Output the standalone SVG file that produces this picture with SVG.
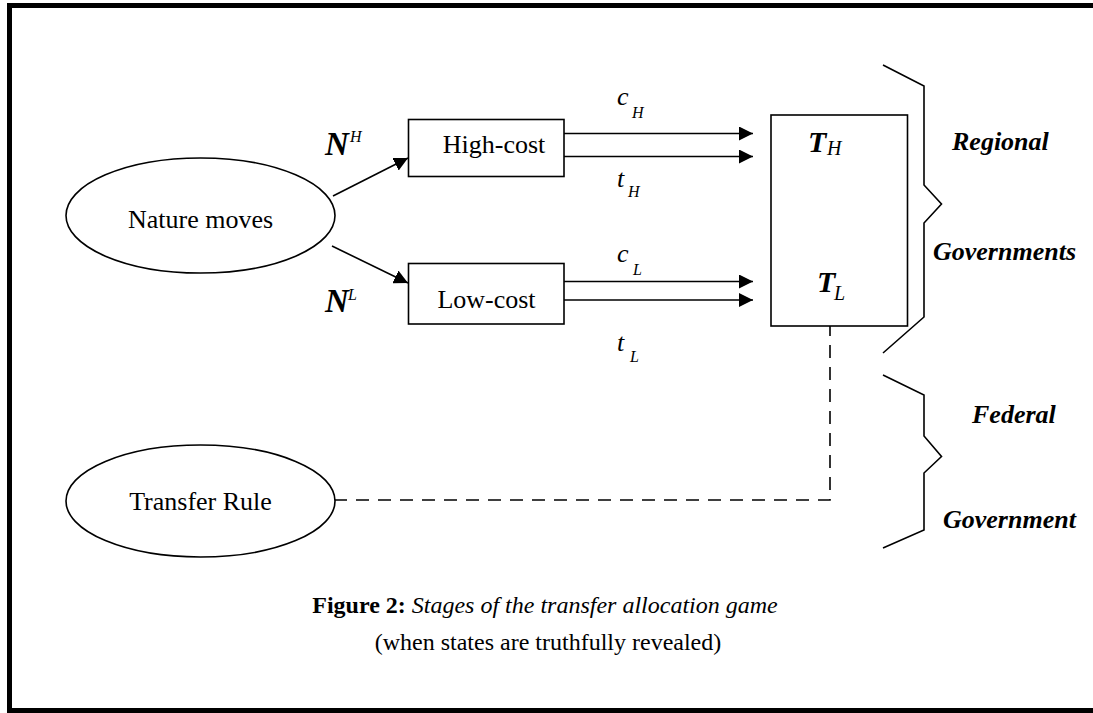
<svg xmlns="http://www.w3.org/2000/svg" width="1093" height="713" viewBox="0 0 1093 713">
  <style>
    .ln { fill: none; stroke: #000; stroke-width: 1.6; }
    .dash { fill: none; stroke: #000; stroke-width: 1.6; stroke-dasharray: 13 9; }
    .shape { fill: #fff; stroke: #000; stroke-width: 1.6; }
    .t { font-family: "Liberation Serif", "Times New Roman", serif; fill: #000; }
    .node { font-size: 26px; }
    .math { font-style: italic; font-size: 26px; }
    .sub { font-style: italic; font-size: 16px; }
    .big { font-style: italic; font-weight: bold; }
    .lbl { font-style: italic; font-weight: bold; font-size: 26px; }
    .cap { font-size: 24px; }
  </style>
  <defs>
    <marker id="arrow" markerUnits="userSpaceOnUse" markerWidth="14" markerHeight="14" viewBox="0 0 12 12" refX="12" refY="6" orient="auto">
      <path d="M0,0 L12,6 L0,12 Z" fill="#000"/>
    </marker>
  </defs>

  <!-- page frame -->
  <rect x="9.5" y="5.5" width="1100" height="705" fill="#fff" stroke="#000" stroke-width="5"/>

  <!-- connectors -->
  <g id="connectors">
    <line class="ln" x1="333" y1="196" x2="408" y2="158" marker-end="url(#arrow)"/>
    <line class="ln" x1="332" y1="246" x2="408" y2="283" marker-end="url(#arrow)"/>
    <line class="ln" x1="561" y1="133.5" x2="753" y2="133.5" marker-end="url(#arrow)"/>
    <line class="ln" x1="561" y1="156.5" x2="753" y2="156.5" marker-end="url(#arrow)"/>
    <line class="ln" x1="561" y1="281.5" x2="753" y2="281.5" marker-end="url(#arrow)"/>
    <line class="ln" x1="561" y1="300" x2="753" y2="300" marker-end="url(#arrow)"/>
    <line class="dash" x1="830" y1="170" x2="830" y2="247"/>
    <polyline class="dash" points="830,323 830,500 335,500"/>
  </g>

  <!-- edge labels -->
  <g id="edge-labels">
    <text class="t big" x="325" y="155" font-size="33">N</text>
    <text class="t sub" x="350" y="142">H</text>
    <text class="t big" x="325" y="312" font-size="33">N</text>
    <text class="t sub" x="348" y="300">L</text>
    <text class="t math" x="617" y="105">c</text>
    <text class="t sub" x="632" y="118">H</text>
    <text class="t math" x="617" y="187">t</text>
    <text class="t sub" x="628" y="197">H</text>
    <text class="t math" x="617" y="262">c</text>
    <text class="t sub" x="633" y="275">L</text>
    <text class="t math" x="617" y="351">t</text>
    <text class="t sub" x="630" y="362">L</text>
  </g>

  <g id="nature">
    <ellipse class="shape" cx="200.5" cy="215.5" rx="134.5" ry="57.5"/>
    <text class="t node" x="200.5" y="228" text-anchor="middle">Nature moves</text>
  </g>

  <g id="high-cost">
    <rect class="shape" x="408.5" y="119.5" width="155.5" height="57"/>
    <text class="t node" x="494" y="153" text-anchor="middle">High-cost</text>
  </g>

  <g id="low-cost">
    <rect class="shape" x="408.5" y="263.5" width="155.5" height="60.5"/>
    <text class="t node" x="486.5" y="308" text-anchor="middle">Low-cost</text>
  </g>

  <g id="transfers">
    <rect class="shape" x="771" y="115" width="136.5" height="211"/>
    <text class="t big" x="808" y="152" font-size="30">T</text>
    <text class="t" x="827" y="155" font-size="20" font-style="italic">H</text>
    <text class="t big" x="817" y="292" font-size="30">T</text>
    <text class="t" x="834" y="300" font-size="20" font-style="italic">L</text>
  </g>

  <g id="transfer-rule">
    <ellipse class="shape" cx="200.5" cy="501" rx="134.5" ry="56"/>
    <text class="t node" x="200.5" y="510" text-anchor="middle">Transfer Rule</text>
  </g>

  <g id="regional">
    <polyline class="ln" points="883,65 924,86 924,185 941.5,204 924,223 924,317 883,353"/>
    <text class="t lbl" x="952" y="150">Regional</text>
    <text class="t lbl" x="933" y="260">Governments</text>
  </g>

  <g id="federal">
    <polyline class="ln" points="883,375 924,395 924,436 941.5,456.5 924,473 924,530 883,548"/>
    <text class="t lbl" x="972" y="423">Federal</text>
    <text class="t lbl" x="943" y="528">Government</text>
  </g>

  <g id="caption">
    <text class="t cap" x="545" y="613" text-anchor="middle"><tspan font-weight="bold">Figure 2:</tspan> <tspan font-style="italic">Stages of the transfer allocation game</tspan></text>
    <text class="t cap" x="548" y="650" text-anchor="middle">(when states are truthfully revealed)</text>
  </g>
</svg>
